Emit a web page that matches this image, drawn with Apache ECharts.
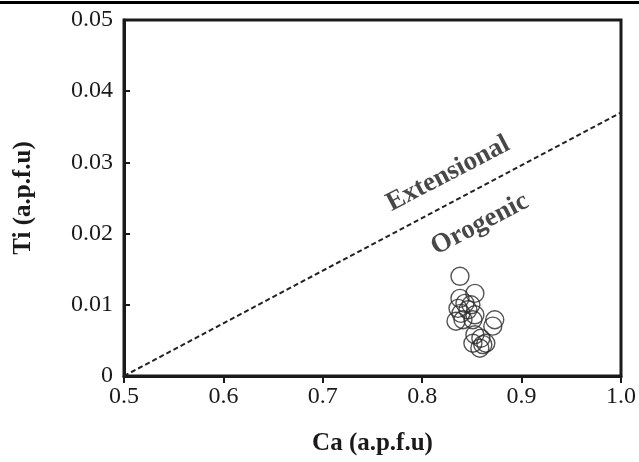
<!DOCTYPE html>
<html><head><meta charset="utf-8">
<script src="https://cdn.jsdelivr.net/npm/echarts@6/dist/echarts.min.js"></script>
<style>html,body{margin:0;padding:0;background:#fff}#c{width:639px;height:462px}</style>
</head><body><div id="c"></div>
<script>
var caValues = [0.838,0.853,0.838,0.843,0.849,0.836,0.846,0.839,0.853,0.834,0.841,0.851,0.873,0.871,0.853,0.859,0.851,0.864,0.858,0.861];
var tiValues = [0.0140,0.0116,0.0109,0.0102,0.0100,0.0095,0.0093,0.0088,0.0086,0.0077,0.0079,0.0079,0.0079,0.0070,0.0058,0.0053,0.0046,0.0046,0.0039,0.0044];
var boundaryCa = [0.5, 1.0];
var boundaryTi = [0, 0.037];
var xTicks = ['0.5','0.6','0.7','0.8','0.9','1.0'];
var yTicks = ['0','0.01','0.02','0.03','0.04','0.05'];
var fieldNames = ['Extensional','Orogenic'];
var fieldCa = [0.826, 0.858];
var fieldTi = [0.0284, 0.0213];

var pts = caValues.map(function(c,i){return [c, tiValues[i]];});
var line = boundaryCa.map(function(c,i){return [c, boundaryTi[i]];});
var fields = fieldNames.map(function(n,i){return {name:n, value:[fieldCa[i], fieldTi[i]]};});
var serif = '"Liberation Serif","Times New Roman",serif';

var chart = echarts.init(document.getElementById('c'), null, {renderer:'canvas'});
chart.setOption({
  animation:false,
  backgroundColor:'#fff',
  grid:{left:124, right:14, top:20, bottom:86, show:true, borderColor:'#1a1a1a', borderWidth:3, backgroundColor:'transparent'},
  graphic:[{type:'rect', shape:{x:0,y:1,width:639,height:3}, style:{fill:'#000'}}],
  xAxis:{type:'value', min:0.5, max:1.0, interval:0.1,
    name:'Ca (a.p.f.u)', nameLocation:'middle', nameGap:55,
    nameTextStyle:{fontFamily:serif, fontWeight:'bold', fontSize:25, color:'#1a1a1a'},
    axisLine:{show:true, lineStyle:{color:'#1a1a1a', width:3}},
    axisTick:{show:true, inside:false, length:7, lineStyle:{color:'#1a1a1a', width:2}},
    axisLabel:{fontFamily:serif, fontSize:24, color:'#1a1a1a', margin:9,
      formatter:function(v){var s=v.toFixed(1); return xTicks.indexOf(s)>=0?s:'';}},
    splitLine:{show:false}},
  yAxis:{type:'value', min:0, max:0.05, interval:0.01,
    name:'Ti (a.p.f.u)', nameLocation:'middle', nameGap:88, nameRotate:90,
    nameTextStyle:{fontFamily:serif, fontWeight:'bold', fontSize:25, color:'#1a1a1a'},
    axisLine:{show:true, lineStyle:{color:'#1a1a1a', width:3}},
    axisTick:{show:true, inside:true, length:6, lineStyle:{color:'#1a1a1a', width:2}},
    axisLabel:{fontFamily:serif, fontSize:24, color:'#1a1a1a', margin:11,
      formatter:function(v){var s=v===0?'0':v.toFixed(2); return yTicks.indexOf(s)>=0?s:'';}},
    splitLine:{show:false}},
  series:[
    {type:'line', data:line, symbol:'none', silent:true,
      lineStyle:{color:'#222', width:2, type:[5,3]}},
    {type:'scatter', data:pts, symbol:'circle', symbolSize:18,
      itemStyle:{color:'rgba(255,255,255,0)', borderColor:'#2a2a2a', borderWidth:1.4}},
    {type:'scatter', data:fields, symbolSize:0, silent:true,
      label:{show:true, position:'inside', rotate:27.5, formatter:'{b}',
        fontFamily:serif, fontWeight:'bold', fontSize:27, color:'#1a1a1a'}}
  ]
});
</script></body></html>
